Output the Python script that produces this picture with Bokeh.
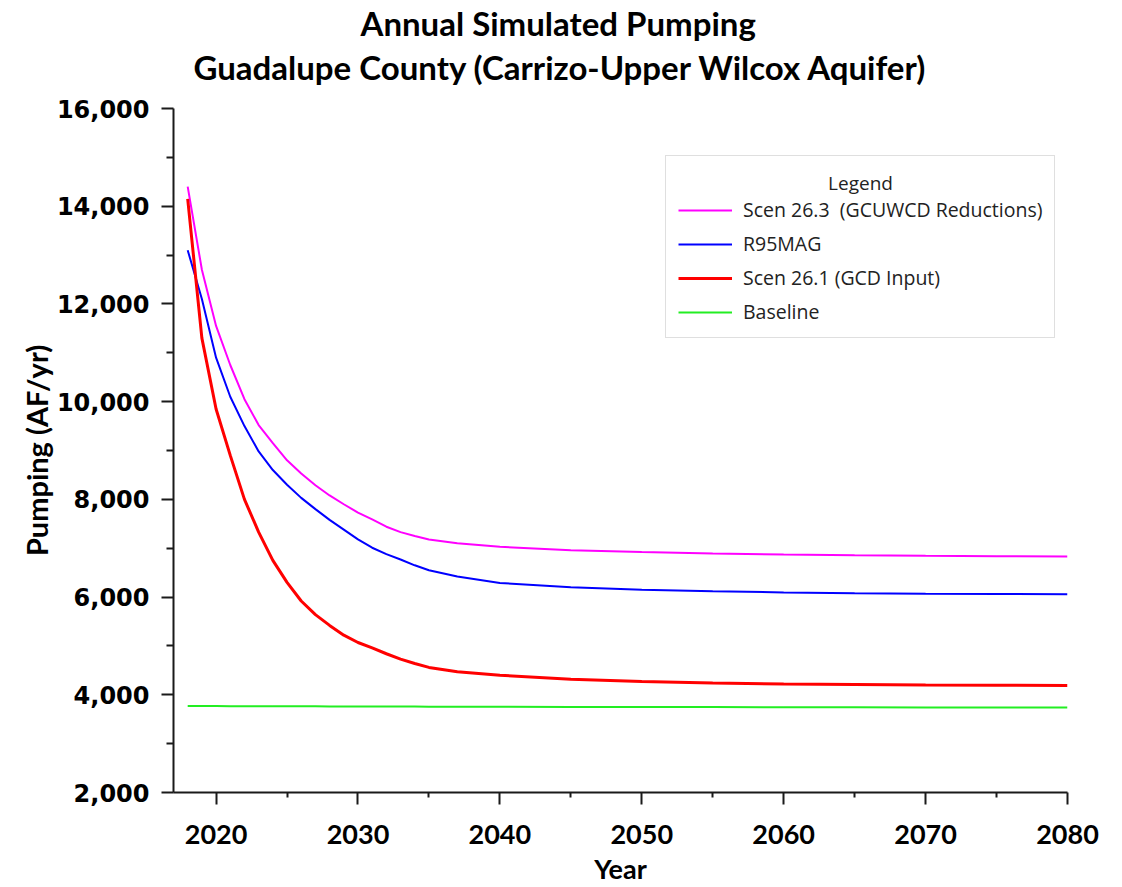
from bokeh.plotting import figure
from bokeh.models import (Legend, LegendItem, Title,
                          FixedTicker, NumeralTickFormatter, Range1d)
from bokeh.core.properties import value
from bokeh.embed import file_html
from bokeh.resources import INLINE

# ---------------- data ----------------
years = [2018, 2019, 2020, 2021, 2022, 2023, 2024, 2025, 2026, 2027, 2028,
         2029, 2030, 2031, 2032, 2033, 2034, 2035, 2037, 2040, 2045, 2050,
         2055, 2060, 2065, 2070, 2075, 2080]

scen_26_3 = [14400, 12700, 11550, 10750, 10050, 9520, 9150, 8800, 8530, 8290,
             8080, 7900, 7730, 7590, 7440, 7330, 7250, 7180, 7100, 7030, 6960,
             6920, 6890, 6870, 6855, 6845, 6837, 6830]

r95mag = [13100, 12100, 10900, 10100, 9500, 8980, 8600, 8300, 8030, 7800,
          7580, 7380, 7180, 7010, 6880, 6770, 6650, 6550, 6420, 6290, 6200,
          6150, 6120, 6095, 6080, 6070, 6065, 6060]

scen_26_1 = [14150, 11300, 9850, 8900, 8000, 7330, 6750, 6300, 5920, 5640,
             5420, 5220, 5070, 4960, 4840, 4730, 4640, 4560, 4470, 4400, 4320,
             4270, 4240, 4220, 4210, 4200, 4195, 4190]

baseline = [3770, 3769, 3768, 3767, 3766, 3766, 3765, 3764, 3763, 3763, 3762,
            3761, 3760, 3760, 3759, 3758, 3758, 3757, 3756, 3755, 3752, 3750,
            3748, 3746, 3744, 3742, 3741, 3740]

series_names = ["Scen 26.3  (GCUWCD Reductions)", "R95MAG",
                "Scen 26.1 (GCD Input)", "Baseline"]

x_start, x_end = 2017, 2080
y_start, y_end = 2000, 16000
x_major_ticks = [2020, 2030, 2040, 2050, 2060, 2070, 2080]
x_minor_ticks = [2025, 2035, 2045, 2055, 2065, 2075]
y_major_ticks = [2000, 4000, 6000, 8000, 10000, 12000, 14000, 16000]
y_minor_ticks = [3000, 5000, 7000, 9000, 11000, 13000, 15000]

title_line1 = "Annual Simulated Pumping"
title_line2 = "Guadalupe County (Carrizo-Upper Wilcox Aquifer)"
legend_title = "Legend"
x_label = "Year"
y_label = "Pumping (AF/yr)"

# ---------------- figure ----------------
p = figure(width=1110, height=887, title=None,
           x_range=Range1d(x_start, x_end), y_range=Range1d(y_start, y_end),
           output_backend="svg", toolbar_location=None,
           min_border_left=173, min_border_right=43,
           min_border_top=108, min_border_bottom=94)
p.outline_line_color = None
p.grid.visible = False

for ax in (p.xaxis[0], p.yaxis[0]):
    ax.axis_line_color = "#1a1a1a"
    ax.axis_line_width = 2
    ax.major_tick_line_color = "#1a1a1a"
    ax.major_tick_line_width = 2
    ax.minor_tick_line_color = "#1a1a1a"
    ax.minor_tick_line_width = 2
    ax.major_tick_in = 0
    ax.minor_tick_in = 0
    ax.major_tick_out = 12
    ax.major_label_text_font_style = "bold"
    ax.major_label_text_color = "black"
    ax.axis_label_text_font_style = "bold"
    ax.axis_label_text_color = "black"

p.xaxis.ticker = FixedTicker(ticks=x_major_ticks, minor_ticks=x_minor_ticks)
p.yaxis.ticker = FixedTicker(ticks=y_major_ticks, minor_ticks=y_minor_ticks)
p.xaxis.minor_tick_out = 5
p.yaxis.minor_tick_out = 7
p.yaxis.formatter = NumeralTickFormatter(format="0,0")

p.xaxis.major_label_text_font = "Lato"
p.xaxis.major_label_text_font_size = "27px"
p.xaxis.major_label_standoff = 20
p.yaxis.major_label_text_font = "DejaVu Sans"
p.yaxis.major_label_text_font_size = "24px"
p.yaxis.major_label_standoff = 12

p.xaxis.axis_label = x_label
p.xaxis.axis_label_text_font = "Lato"
p.xaxis.axis_label_text_font_size = "27px"
p.xaxis.axis_label_standoff = 5
p.yaxis.axis_label = y_label
p.yaxis.axis_label_text_font = "Lato"
p.yaxis.axis_label_text_font_size = "29px"
p.yaxis.axis_label_standoff = 0

r_green = p.line(years, baseline, line_color="#22EE22", line_width=2)
r_blue = p.line(years, r95mag, line_color="#0000FF", line_width=2)
r_mag = p.line(years, scen_26_3, line_color="#FF00FF", line_width=2)
r_red = p.line(years, scen_26_1, line_color="#FF0000", line_width=3)

# legend heading: anchored at the top-right corner of the frame, offset in px
p.text(x=[x_end], y=[y_end], text=[legend_title], x_offset=-207, y_offset=74,
       text_align="center", text_baseline="middle",
       text_font=value("Open Sans"), text_font_size="19px",
       text_color="#222222")

legend = Legend(
    items=[LegendItem(label=series_names[0], renderers=[r_mag]),
           LegendItem(label=series_names[1], renderers=[r_blue]),
           LegendItem(label=series_names[2], renderers=[r_red]),
           LegendItem(label=series_names[3], renderers=[r_green])],
    location=(492, 454), margin=0, padding=12,
    title=" ", title_text_font="Open Sans", title_text_alpha=0.0,
    title_text_font_size="14px", title_standoff=9,
    label_text_font="Open Sans", label_text_font_size="19.5px",
    label_text_color="#222222",
    glyph_width=54, glyph_height=20, label_height=20, label_standoff=11,
    spacing=7, border_line_color="#BFBFBF", border_line_width=1,
    background_fill_alpha=0.0)
p.add_layout(legend)

# empty spacer panel between the frame and the title lines
spacer = Title(text="\u200b", align="left", standoff=6,
               text_font="Lato", text_font_size="10px", text_color="white")
t2 = Title(text=title_line2, align="left", offset=20, vertical_align="middle",
           standoff=2, text_font="Lato", text_font_style="bold",
           text_font_size="33px", text_color="black")
t1 = Title(text=title_line1, align="left", offset=187, vertical_align="middle",
           standoff=2, text_font="Lato", text_font_style="bold",
           text_font_size="33px", text_color="black")
p.add_layout(spacer, "above")
p.add_layout(t2, "above")
p.add_layout(t1, "above")

open("out.html", "w").write(file_html(p, INLINE))
